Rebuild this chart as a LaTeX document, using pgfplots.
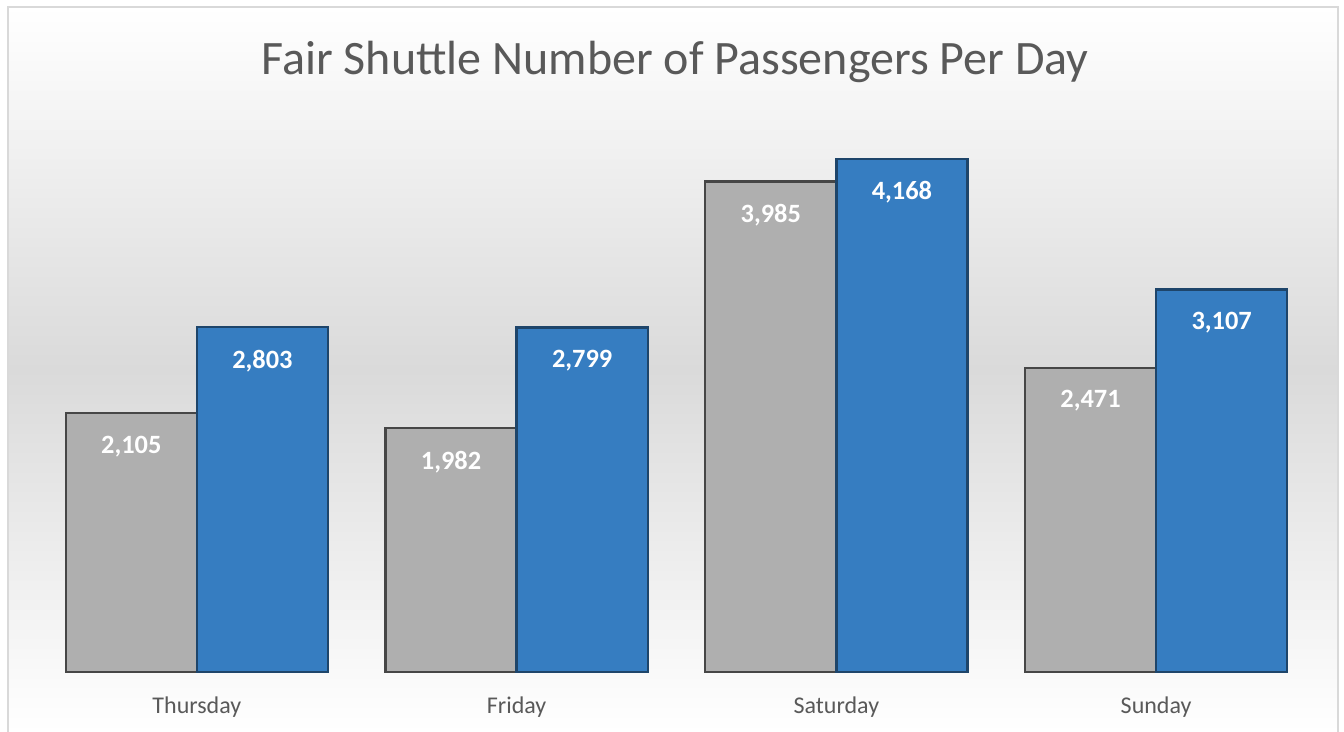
\documentclass[border=0pt]{standalone}
\usepackage{pgfplots}
\pgfplotsset{compat=1.18}
\usepackage{fontspec}
\setmainfont{Carlito}
\definecolor{txt}{HTML}{595959}
\definecolor{grayBar}{HTML}{AFAFAF}
\definecolor{blueBar}{HTML}{367DC1}
\definecolor{bgmid}{HTML}{DADADA}
\definecolor{frame}{HTML}{D9D9D9}
\begin{document}
\begin{tikzpicture}
\useasboundingbox (0,0) rectangle (672pt,366pt);
\shade[top color=white, bottom color=white, middle color=bgmid] (4pt,0pt) rectangle (669pt,362.5pt);
\draw[frame, line width=0.75pt] (4pt,-2pt) rectangle (669pt,362.5pt);
\node[font=\fontsize{24}{29}\selectfont, text=txt] at (337.5pt,335pt) {Fair Shuttle Number of Passengers Per Day};
\begin{axis}[
  at={(18.5pt,30pt)}, anchor=south west, scale only axis,
  width=639.5pt, height=277pt,
  xmin=-0.5, xmax=3.5, ymin=0, ymax=4500,
  axis line style={draw=none}, major tick length=0pt,
  ytick=\empty, xtick={0,1,2,3},
  xticklabels={Thursday,Friday,Saturday,Sunday},
  xticklabel style={anchor=base, yshift=-21pt, font=\fontsize{12}{14}\selectfont, text=txt},
  ybar, bar width=0.41, clip=false,
  /pgf/number format/1000 sep={,},
  /pgf/number format/assume math mode=true,
  nodes near coords,
  nodes near coords style={anchor=north, yshift=-7.5pt, font=\fontsize{13.2}{16}\selectfont\bfseries, text=white},
]
\addplot[fill=grayBar, draw=gray!55!black, line width=1.2pt, bar shift=-0.205] coordinates {(0,2105) (1,1982) (2,3985) (3,2471)};
\addplot[fill=blueBar, draw=blueBar!55!black, line width=1.2pt, bar shift=0.205] coordinates {(0,2803) (1,2799) (2,4168) (3,3107)};
\end{axis}
\end{tikzpicture}
\end{document}
